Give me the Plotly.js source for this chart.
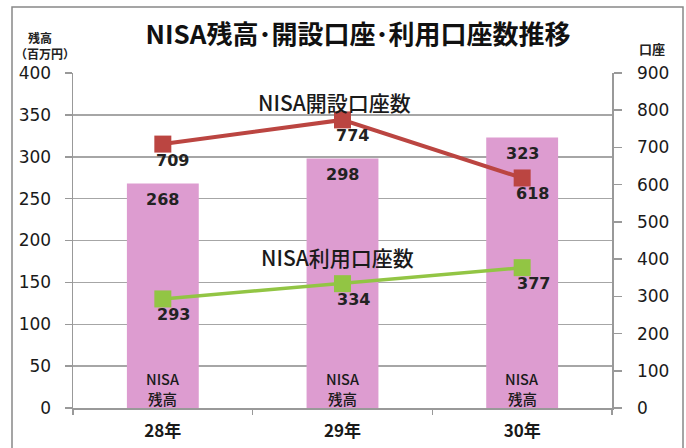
<!DOCTYPE html>
<html>
<head>
<meta charset="utf-8">
<script src="https://cdn.plot.ly/plotly-3.0.1.min.js"></script>
<style>html,body{margin:0;padding:0;background:#fff;}#chart{width:686px;height:448px;}</style>
</head>
<body>
<div id="chart"></div>
<script>
const categories = ['28年', '29年', '30年'];
const balance = [268, 298, 323];            // NISA残高（百万円）
const openedAccounts = [709, 774, 618];     // NISA開設口座数
const usedAccounts = [293, 334, 377];       // NISA利用口座数
const leftTicks = [0, 50, 100, 150, 200, 250, 300, 350, 400];
const rightTicks = [0, 100, 200, 300, 400, 500, 600, 700, 800, 900];

const numFont = {family: '"DejaVu Sans", sans-serif', size: 17, color: '#1a1a1a'};
const labelFont = {family: '"DejaVu Sans", sans-serif', size: 16, color: '#222', weight: 'bold'};
const jpFont = '"Noto Sans CJK JP", sans-serif';

const traces = [
  {type: 'bar', x: categories, y: balance, width: 0.4, marker: {color: '#dd9cd0'},
   yaxis: 'y', hoverinfo: 'none'},
  {type: 'scatter', mode: 'lines+markers', x: categories, y: openedAccounts, yaxis: 'y2',
   line: {color: '#bb4541', width: 4}, marker: {symbol: 'square', size: 17, color: '#bb4541'}},
  {type: 'scatter', mode: 'lines+markers', x: categories, y: usedAccounts, yaxis: 'y2',
   line: {color: '#92c544', width: 3.5}, marker: {symbol: 'square', size: 17, color: '#92c544'}}
];

const W = 539, H = 335, L = 73, T = 73;
function px(x){return (x - L) / W;}
function py(y){return (T + H - y) / H;}

const barNameFont = {family: jpFont, size: 14.5, color: '#1a1a1a', weight: 500};
const annotations = [];
categories.forEach((c, i) => {
  annotations.push({x: c, y: balance[i], xref: 'x', yref: 'y', text: String(balance[i]),
    showarrow: false, yshift: -16, font: labelFont});
  annotations.push({x: c, y: 0, xref: 'x', yref: 'y', text: 'NISA',
    showarrow: false, yanchor: 'middle', yshift: 30, font: barNameFont});
  annotations.push({x: c, y: 0, xref: 'x', yref: 'y', text: '残高',
    showarrow: false, yanchor: 'middle', yshift: 10, font: barNameFont});
  annotations.push({x: c, y: openedAccounts[i], xref: 'x', yref: 'y2', text: String(openedAccounts[i]),
    showarrow: false, xshift: 10, yshift: -16, font: labelFont});
  annotations.push({x: c, y: usedAccounts[i], xref: 'x', yref: 'y2', text: String(usedAccounts[i]),
    showarrow: false, xshift: 11, yshift: -16, font: labelFont});
});
annotations.push(
  {x: 1, y: openedAccounts[1], xref: 'x', yref: 'y2', text: 'NISA開設口座数', showarrow: false,
   xshift: -8, yshift: 18, font: {family: jpFont, size: 21, color: '#1a1a1a', weight: 500}},
  {x: 1, y: usedAccounts[1], xref: 'x', yref: 'y2', text: 'NISA利用口座数', showarrow: false,
   xshift: -5, yshift: 27, font: {family: jpFont, size: 21, color: '#1a1a1a', weight: 500}},
  {x: px(40), y: py(38), xref: 'paper', yref: 'paper', xanchor: 'center', yanchor: 'middle',
   text: '<b>残高</b>', showarrow: false, font: {family: jpFont, size: 12, color: '#222'}},
  {x: px(45), y: py(53), xref: 'paper', yref: 'paper', xanchor: 'center', yanchor: 'middle',
   text: '<b>（百万円）</b>', showarrow: false, font: {family: jpFont, size: 12, color: '#222'}},
  {x: px(652), y: py(48), xref: 'paper', yref: 'paper', xanchor: 'center', yanchor: 'middle',
   text: '<b>口座</b>', showarrow: false, font: {family: jpFont, size: 13, color: '#222'}}
);

const layout = {
  width: 686, height: 448,
  margin: {l: L, r: 686 - L - W, t: T, b: 448 - T - H},
  paper_bgcolor: '#fff', plot_bgcolor: '#fff',
  showlegend: false,
  title: {text: '<b>NISA残高･開設口座･利用口座数推移</b>', x: 358 / 686, xanchor: 'center',
    y: 1 - 35 / 448, yanchor: 'middle',
    font: {family: jpFont, size: 26, color: '#111'}},
  xaxis: {type: 'category', range: [-0.5, 2.5], showline: true, linecolor: '#999', linewidth: 1.5,
    ticks: 'outside', tickson: 'boundaries', ticklen: 5, tickcolor: '#999', tickwidth: 1.5,
    ticklabelstandoff: 7,
    showgrid: false, tickfont: {family: jpFont, size: 17, color: '#1a1a1a', weight: 'bold'}},
  yaxis: {range: [0, 400], tickvals: leftTicks, showline: true, linecolor: '#999', linewidth: 1.5,
    ticks: 'outside', ticklen: 7, tickcolor: '#999', tickwidth: 1.5, ticklabelstandoff: 10,
    gridcolor: '#a6a6a6', gridwidth: 1.5, zeroline: false, tickfont: numFont},
  yaxis2: {range: [0, 900], tickvals: rightTicks, overlaying: 'y', side: 'right', showline: true,
    linecolor: '#999', linewidth: 1.5, ticks: 'outside', ticklen: 8, tickcolor: '#999', tickwidth: 1.5,
    ticklabelstandoff: 12, showgrid: false, zeroline: false, tickfont: numFont},
  shapes: [
    {type: 'rect', xref: 'paper', yref: 'paper', x0: px(12), x1: px(683), y0: py(460), y1: py(7),
     line: {color: '#888', width: 1.5}, layer: 'below'}
  ],
  annotations: annotations
};

Plotly.newPlot('chart', traces, layout, {displayModeBar: false, staticPlot: true});
</script>
</body>
</html>
